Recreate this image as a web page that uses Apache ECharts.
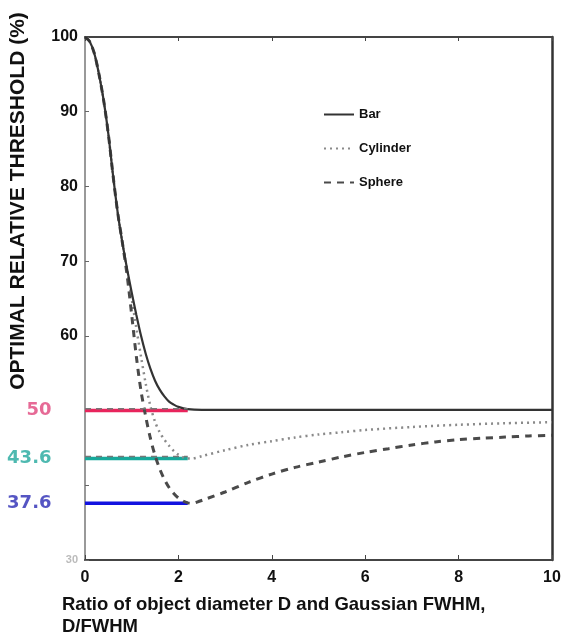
<!DOCTYPE html>
<html>
<head>
<meta charset="utf-8">
<script src="https://cdn.jsdelivr.net/npm/echarts@6/dist/echarts.min.js"></script>
<style>
  html, body { margin: 0; padding: 0; background: #fff; }
  #chart { width: 564px; height: 637px; }
</style>
</head>
<body>
<div id="chart"></div>
<script>
// 曲线数据
const barX = [0, 0.1, 0.2, 0.3, 0.4, 0.5, 0.6, 0.7, 0.8, 0.9, 1.0, 1.1, 1.2, 1.3, 1.4, 1.5, 1.6, 1.7, 1.8, 1.9, 2.0, 2.2, 2.5, 3, 4, 5, 6, 7, 8, 9, 10];
const barY = [100, 99.4, 97.8, 95, 91.5, 87, 81.5, 76.5, 72.5, 69, 65.8, 62.8, 60, 57.6, 55.6, 54, 52.8, 51.9, 51.2, 50.8, 50.5, 50.2, 50.1, 50.1, 50.1, 50.1, 50.1, 50.1, 50.1, 50.1, 50.1];

const cylX = [0, 0.1, 0.2, 0.3, 0.4, 0.5, 0.6, 0.7, 0.8, 0.9, 1.0, 1.1, 1.2, 1.3, 1.4, 1.5, 1.6, 1.7, 1.8, 1.9, 2.0, 2.1, 2.2, 2.3, 2.5, 3, 3.5, 4, 4.5, 5, 5.5, 6, 7, 8, 9, 10];
const cylY = [100, 99.4, 97.8, 95, 91.5, 87, 81.5, 76.5, 72.5, 68.8, 65, 61, 57.2, 53.6, 50.6, 48.5, 47.1, 46.1, 45.3, 44.6, 44.1, 43.75, 43.6, 43.6, 43.9, 44.7, 45.4, 45.9, 46.4, 46.8, 47.1, 47.4, 47.8, 48.1, 48.3, 48.45];

const sphX = [0, 0.1, 0.2, 0.3, 0.4, 0.5, 0.6, 0.7, 0.8, 0.9, 1.0, 1.1, 1.2, 1.3, 1.4, 1.5, 1.6, 1.7, 1.8, 1.9, 2.0, 2.1, 2.2, 2.3, 2.4, 2.6, 3.0, 3.5, 4.0, 4.5, 5, 5.5, 6, 6.5, 7, 7.5, 8, 8.5, 9, 9.5, 10];
const sphY = [100, 99.4, 97.8, 95, 91.5, 87, 81.5, 76.5, 72.5, 68.2, 62.8, 57.2, 52.6, 49.2, 46.3, 44, 42.2, 40.8, 39.7, 38.9, 38.3, 37.9, 37.65, 37.6, 37.75, 38.2, 39.1, 40.4, 41.5, 42.4, 43.1, 43.8, 44.4, 44.9, 45.4, 45.8, 46.1, 46.3, 46.45, 46.6, 46.7];

// 彩色参考线
const refLevels = [50, 43.6, 37.6];
const refLabels = ['50', '43.6', '37.6'];
const refColors = ['#e8245c', '#16a89a', '#1212e0'];
const refLabelColors = ['#e0457c', '#22a89c', '#2a2ab4'];
const refEnd = 2.2;
const guideLevels = [50.25, 43.85];

const zip = (xs, ys) => xs.map((x, i) => [x, ys[i]]);

const chart = echarts.init(document.getElementById('chart'));

const curveSeries = [
  {
    name: 'Bar', type: 'line', data: zip(barX, barY), symbol: 'none', smooth: 0.3, z: 5,
    lineStyle: { color: '#333', width: 2.2, type: 'solid' }, itemStyle: { color: '#333' }
  },
  {
    name: 'Cylinder', type: 'line', data: zip(cylX, cylY), symbol: 'none', smooth: 0.3, z: 4,
    lineStyle: { color: '#8a8a8a', width: 2.5, type: [2, 4] }, itemStyle: { color: '#8a8a8a' }
  },
  {
    name: 'Sphere', type: 'line', data: zip(sphX, sphY), symbol: 'none', smooth: 0.3, z: 4,
    lineStyle: { color: '#4a4a4a', width: 3, type: [7, 6] }, itemStyle: { color: '#4a4a4a' }
  }
];

const refSeries = refLevels.map((lv, i) => ({
  name: 'ref' + i, type: 'line', symbol: 'none', z: 3, silent: true,
  lineStyle: { color: refColors[i], width: 3.5 },
  data: [[0, lv], [refEnd, lv]]
}));

// 左侧彩色数值标签
const refLabelSeries = refLevels.map((lv, i) => ({
  name: 'refLabel' + i, type: 'scatter', symbolSize: 1, z: 7, silent: true,
  itemStyle: { color: 'rgba(0,0,0,0)' },
  label: {
    show: true, position: 'left', distance: 33, formatter: refLabels[i],
    color: refLabelColors[i], fontFamily: 'DejaVu Sans', fontWeight: 'bold', fontSize: 18
  },
  data: [[0, lv]]
}));

const guideSeries = guideLevels.map((lv, i) => ({
  name: 'guide' + i, type: 'line', symbol: 'none', z: 6, silent: true,
  lineStyle: { color: '#777', width: 1.5, type: [6, 5] },
  data: [[0, lv], [refEnd, lv]]
}));

const option = {
  backgroundColor: '#fff',
  animation: false,
  grid: { left: 85, right: 12, top: 37, bottom: 77 },
  legend: {
    data: ['Bar', 'Cylinder', 'Sphere'],
    orient: 'vertical',
    left: 318, top: 103,
    itemWidth: 30, itemHeight: 10, itemGap: 21,
    itemStyle: { opacity: 0 },
    textStyle: { fontFamily: 'Liberation Sans', fontWeight: 'bold', fontSize: 13, color: '#111' }
  },
  xAxis: [
    {
      type: 'value', min: 0, max: 10, interval: 2,
      axisLine: { show: true, onZero: false, lineStyle: { color: '#444', width: 2 } },
      axisTick: { show: true, inside: true, length: 5, lineStyle: { color: '#444' } },
      splitLine: { show: false },
      axisLabel: { margin: 10, fontFamily: 'Liberation Sans', fontWeight: 'bold', fontSize: 16, color: '#111' }
    },
    {
      type: 'value', min: 0, max: 10, interval: 2, position: 'top',
      axisLine: { show: true, onZero: false, lineStyle: { color: '#444', width: 2 } },
      axisTick: { show: true, inside: true, length: 4, lineStyle: { color: '#444' } },
      splitLine: { show: false },
      axisLabel: { show: false }
    }
  ],
  yAxis: [
    {
      type: 'value', min: 30, max: 100, interval: 10,
      axisLine: { show: true, onZero: false, lineStyle: { color: '#999', width: 2 } },
      axisTick: { show: true, inside: true, length: 4, lineStyle: { color: '#666' } },
      splitLine: { show: false },
      axisLabel: {
        margin: 7, fontFamily: 'Liberation Sans', fontWeight: 'bold', fontSize: 16, color: '#111',
        formatter: v => {
          if (v === 50 || v === 40) return '';
          if (v === 30) return '{faint|30}';
          return String(v);
        },
        rich: { faint: { color: '#bbb', fontSize: 11, fontFamily: 'Liberation Sans', fontWeight: 'bold' } }
      }
    },
    {
      type: 'value', min: 30, max: 100, interval: 10, position: 'right',
      axisLine: { show: true, onZero: false, lineStyle: { color: '#333', width: 2.5 } },
      axisTick: { show: false }, splitLine: { show: false }, axisLabel: { show: false }
    }
  ],
  graphic: [
    {
      type: 'text', x: 18, y: 201, rotation: Math.PI / 2,
      style: {
        text: 'OPTIMAL RELATIVE THRESHOLD (%)', fill: '#111',
        font: 'bold 21px "Liberation Sans"', align: 'center', verticalAlign: 'middle'
      }
    },
    {
      type: 'text', x: 62, y: 594,
      style: {
        text: 'Ratio of object diameter D and Gaussian FWHM,\nD/FWHM', fill: '#111',
        font: 'bold 18.5px "Liberation Sans"', lineHeight: 22, align: 'left', verticalAlign: 'top'
      }
    }
  ],
  series: [...refSeries, ...guideSeries, ...curveSeries, ...refLabelSeries]
};

chart.setOption(option);
</script>
</body>
</html>
